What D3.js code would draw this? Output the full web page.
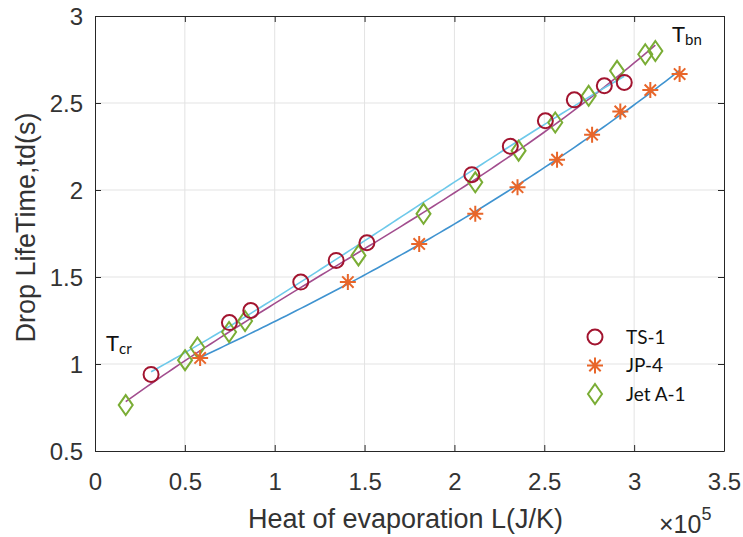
<!DOCTYPE html>
<html>
<head>
<meta charset="utf-8">
<script src="https://cdn.jsdelivr.net/npm/d3@7"></script>
<style>
  body { margin: 0; background: #fff; }
  svg { display: block; font-family: "Liberation Sans", Arial, sans-serif; }
  .note { font-family: Lato, "Open Sans", sans-serif; }
</style>
</head>
<body>
<svg id="chart"></svg>
<script>
const width = 743;
const height = 537;
const margin = { top: 16, right: 19, bottom: 86, left: 95 };

// heat of evaporation (x 1e5 J/K) and drop lifetime (s)
const ts1L = [0.312, 0.748, 0.867, 1.145, 1.342, 1.513, 2.097, 2.311, 2.506, 2.667, 2.834, 2.945];
const ts1T = [0.94, 1.238, 1.307, 1.471, 1.595, 1.697, 2.088, 2.251, 2.398, 2.518, 2.599, 2.618];
const jp4L = [0.585, 1.407, 1.804, 2.116, 2.351, 2.571, 2.766, 2.923, 3.090, 3.253];
const jp4T = [1.035, 1.471, 1.69, 1.863, 2.016, 2.174, 2.318, 2.451, 2.574, 2.666];
const jetL = [0.171, 0.501, 0.570, 0.746, 0.835, 1.466, 1.828, 2.116, 2.357, 2.561, 2.747, 2.905, 3.062, 3.118];
const jetT = [0.764, 1.022, 1.095, 1.184, 1.247, 1.624, 1.863, 2.044, 2.226, 2.388, 2.541, 2.685, 2.78, 2.799];

const xTicks = [0, 0.5, 1, 1.5, 2, 2.5, 3, 3.5];
const yTicks = [0.5, 1, 1.5, 2, 2.5, 3];
const seriesNames = ["TS-1", "JP-4", "Jet A-1"];

const series = [
  { name: "TS-1", L: ts1L, T: ts1T, marker: "circle", color: "#a2142f", line: "#6ec9ea" },
  { name: "JP-4", L: jp4L, T: jp4T, marker: "star", color: "#e8662a", line: "#3f93d0" },
  { name: "Jet A-1", L: jetL, T: jetT, marker: "diamond", color: "#7aad35", line: "#a24d8e" }
];

const iw = width - margin.left - margin.right;
const ih = height - margin.top - margin.bottom;

const x = d3.scaleLinear().domain([0, 3.5]).range([0, iw]);
const y = d3.scaleLinear().domain([0.5, 3]).range([ih, 0]);

const svg = d3.select("#chart").attr("width", width).attr("height", height);
const g = svg.append("g").attr("transform", `translate(${margin.left},${margin.top})`);

// grid
g.append("g")
  .selectAll("line")
  .data(xTicks.slice(1, -1))
  .join("line")
  .attr("x1", d => x(d)).attr("x2", d => x(d))
  .attr("y1", 0).attr("y2", ih)
  .attr("stroke", "#e3e3e3").attr("stroke-width", 1);

g.append("g")
  .selectAll("line")
  .data(yTicks.slice(1, -1))
  .join("line")
  .attr("y1", d => y(d)).attr("y2", d => y(d))
  .attr("x1", 0).attr("x2", iw)
  .attr("stroke", "#e3e3e3").attr("stroke-width", 1);

// least squares polynomial fit, used for the trend curves
function polyfit(xs, ys, deg) {
  const n = deg + 1;
  const A = Array.from({ length: n }, () => new Array(n + 1).fill(0));
  xs.forEach((xv, k) => {
    for (let i = 0; i < n; i++) {
      for (let j = 0; j < n; j++) A[i][j] += Math.pow(xv, i + j);
      A[i][n] += ys[k] * Math.pow(xv, i);
    }
  });
  for (let i = 0; i < n; i++) {
    let p = i;
    for (let r = i + 1; r < n; r++) if (Math.abs(A[r][i]) > Math.abs(A[p][i])) p = r;
    [A[i], A[p]] = [A[p], A[i]];
    for (let r = 0; r < n; r++) {
      if (r === i) continue;
      const f = A[r][i] / A[i][i];
      for (let c = i; c <= n; c++) A[r][c] -= f * A[i][c];
    }
  }
  const coef = A.map((row, i) => row[n] / row[i]);
  return v => coef.reduce((s, c, i) => s + c * Math.pow(v, i), 0);
}

const line = d3.line().x(d => x(d[0])).y(d => y(d[1])).curve(d3.curveLinear);

// draw fits in order: JP-4 (blue), Jet A-1 (purple), TS-1 (cyan)
[series[1], series[2], series[0]].forEach(s => {
  const f = polyfit(s.L, s.T, 3);
  const [lo, hi] = d3.extent(s.L);
  const pts = d3.range(0, 101).map(i => {
    const v = lo + (hi - lo) * i / 100;
    return [v, f(v)];
  });
  g.append("path")
    .datum(pts)
    .attr("fill", "none")
    .attr("stroke", s.line)
    .attr("stroke-width", 1.6)
    .attr("d", line);
});

function drawMarker(sel, type, color) {
  if (type === "circle") {
    sel.append("circle").attr("r", 7.5)
      .attr("fill", "none").attr("stroke", color).attr("stroke-width", 2);
  } else if (type === "diamond") {
    sel.append("path").attr("d", "M0,-10L7,0L0,10L-7,0Z")
      .attr("fill", "none").attr("stroke", color).attr("stroke-width", 2);
  } else {
    const r = 8, q = 5.7;
    sel.append("path")
      .attr("d", `M0,${-r}V${r}M${-r},0H${r}M${-q},${-q}L${q},${q}M${-q},${q}L${q},${-q}`)
      .attr("stroke", color).attr("stroke-width", 2).attr("fill", "none");
  }
}

// markers: Jet A-1 first, TS-1 on top
[series[2], series[1], series[0]].forEach(s => {
  const pts = s.L.map((v, i) => [v, s.T[i]]);
  g.append("g")
    .selectAll("g")
    .data(pts)
    .join("g")
    .attr("transform", d => `translate(${x(d[0])},${y(d[1])})`)
    .each(function () { drawMarker(d3.select(this), s.marker, s.color); });
});

// axes box with inward ticks on all sides
const axisColor = "#333333";
const xAxisB = d3.axisBottom(x).tickValues(xTicks).tickSize(-6).tickSizeOuter(0).tickFormat(d3.format("~g"));
const xAxisT = d3.axisTop(x).tickValues(xTicks).tickSize(-6).tickSizeOuter(0).tickFormat("");
const yAxisL = d3.axisLeft(y).tickValues(yTicks).tickSize(-6).tickSizeOuter(0).tickFormat(d3.format("~g"));
const yAxisR = d3.axisRight(y).tickValues(yTicks).tickSize(-6).tickSizeOuter(0).tickFormat("");

const gxb = g.append("g").attr("transform", `translate(0,${ih})`).call(xAxisB);
const gxt = g.append("g").call(xAxisT);
const gyl = g.append("g").call(yAxisL);
const gyr = g.append("g").attr("transform", `translate(${iw},0)`).call(yAxisR);

[gxb, gxt, gyl, gyr].forEach(a => {
  a.selectAll("path, line").attr("stroke", "#262626").attr("stroke-width", 1);
  a.selectAll("text").attr("fill", axisColor).attr("font-size", 24)
    .attr("font-family", "'Liberation Sans', Arial, sans-serif");
});
gxb.selectAll("text").attr("y", 22).attr("dy", "0.71em");
gyl.selectAll("text").attr("x", -12).attr("dy", "0.36em");

// axis titles
g.append("text")
  .attr("x", iw / 2 - 4).attr("y", ih + 77)
  .attr("text-anchor", "middle")
  .attr("font-size", 27).attr("fill", axisColor)
  .text("Heat of evaporation L(J/K)");

const mult = g.append("text")
  .attr("x", iw - 65).attr("y", ih + 82)
  .attr("font-size", 25).attr("fill", axisColor);
mult.append("tspan").text("\u00d710");
mult.append("tspan").attr("dy", -13).attr("font-size", 18).text("5");

svg.append("text")
  .attr("transform", `translate(35,${margin.top + ih / 2 - 6}) rotate(-90)`)
  .attr("text-anchor", "middle")
  .attr("font-size", 27).attr("fill", axisColor)
  .text("Drop LifeTime,td(s)");

// annotations
function subLabel(px, py, main, sub) {
  const t = svg.append("text").attr("class", "note")
    .attr("x", px).attr("y", py).attr("fill", "#111");
  t.append("tspan").attr("font-size", 22).text(main);
  t.append("tspan").attr("font-size", 15).attr("dy", 3).text(sub);
}
subLabel(106, 351, "T", "cr");
subLabel(672, 42, "T", "bn");

// legend (no box)
const legend = svg.append("g").attr("transform", "translate(595,337)");
const items = legend.selectAll("g")
  .data(series)
  .join("g")
  .attr("transform", (d, i) => `translate(0,${i * 28.5})`);
items.each(function (d) { drawMarker(d3.select(this), d.marker, d.color); });
items.append("text")
  .attr("class", "note")
  .attr("x", 31).attr("y", 6.5)
  .attr("font-size", 19).attr("fill", "#111")
  .text((d, i) => seriesNames[i]);
</script>
</body>
</html>
